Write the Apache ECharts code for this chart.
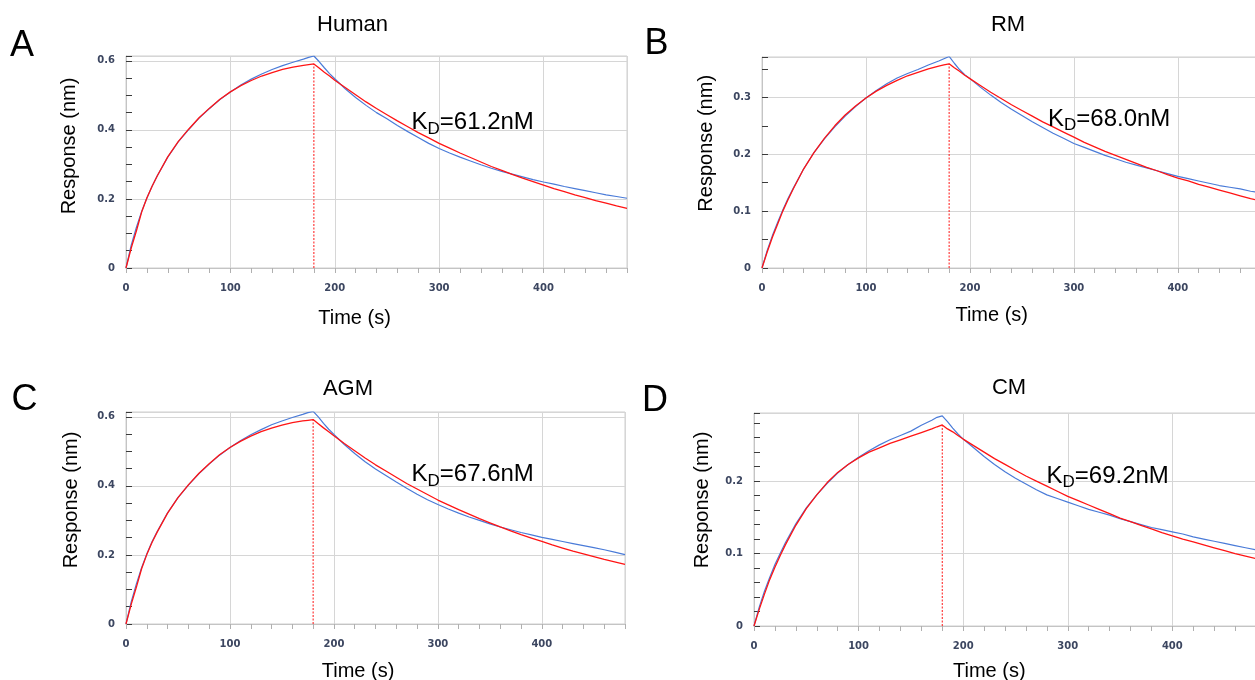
<!DOCTYPE html>
<html><head><meta charset="utf-8">
<script src="https://cdn.jsdelivr.net/npm/echarts@6/dist/echarts.min.js"></script>
<style>html,body{margin:0;padding:0;background:#fff}#chart{width:1255px;height:680px}</style>
</head><body><div id="chart"></div>
<script>
// ---------- data ----------
const time = [0,5,10,15,20,25,30,40,50,60,70,80,90,100,110,120,130,140,150,160,170,175,180,
  185,190,195,200,210,220,230,240,250,260,270,280,290,300,310,320,330,340,350,360,370,380,390,400,410,420,430,440,450,460,470,480];
const dissociationStart = 180;

const panelTitles = ['Human', 'RM', 'AGM', 'CM'];
const panelLetters = ['A', 'B', 'C', 'D'];
const kdValues = ['61.2', '68.0', '67.6', '69.2'];
const yMax = [0.614, 0.371, 0.614, 0.294];
const yLabelStep = [0.2, 0.1, 0.2, 0.1];
const yTickStep = [0.05, 0.05, 0.05, 0.02];
const xMin = 0, xMax = 480, xLabelStep = 100, xTickStep = 20;

const humanData = [0,0.066,0.118,0.164,0.203,0.237,0.267,0.321,0.365,0.401,0.434,0.462,0.488,0.510,0.530,0.547,0.562,0.575,0.586,0.596,0.605,0.610,0.614,
  0.598,0.580,0.563,0.548,0.519,0.494,0.471,0.450,0.432,0.413,0.395,0.378,0.361,0.346,0.333,0.321,0.310,0.299,0.289,0.280,0.272,0.264,0.256,0.249,0.243,0.236,0.230,0.224,0.218,0.212,0.207,0.202];
const humanFit = [0,0.058,0.108,0.162,0.203,0.237,0.267,0.322,0.366,0.402,0.435,0.463,0.489,0.510,0.528,0.543,0.556,0.566,0.575,0.582,0.587,0.589,0.591,
  0.579,0.567,0.556,0.544,0.523,0.502,0.481,0.462,0.444,0.426,0.409,0.392,0.377,0.361,0.347,0.333,0.320,0.307,0.294,0.283,0.271,0.260,0.250,0.240,0.230,0.221,0.212,0.204,0.195,0.188,0.180,0.173];

const rmData = [0,0.031,0.057,0.080,0.102,0.122,0.140,0.174,0.203,0.227,0.248,0.267,0.284,0.299,0.312,0.324,0.334,0.342,0.349,0.357,0.364,0.368,0.372,
  0.360,0.349,0.340,0.333,0.318,0.304,0.291,0.279,0.268,0.257,0.247,0.237,0.228,0.219,0.212,0.205,0.198,0.192,0.186,0.181,0.176,0.171,0.166,0.161,0.157,0.153,0.149,0.145,0.142,0.139,0.135,0.132];
const rmFit = [0,0.028,0.054,0.077,0.100,0.120,0.139,0.174,0.203,0.228,0.250,0.269,0.285,0.299,0.311,0.321,0.330,0.338,0.344,0.350,0.355,0.357,0.359,
  0.352,0.346,0.339,0.333,0.321,0.309,0.298,0.287,0.277,0.267,0.257,0.248,0.239,0.230,0.221,0.213,0.205,0.198,0.191,0.184,0.177,0.171,0.164,0.158,0.153,0.147,0.142,0.137,0.132,0.127,0.122,0.118];

const agmData = [0,0.064,0.116,0.163,0.203,0.238,0.268,0.322,0.366,0.402,0.435,0.463,0.489,0.511,0.531,0.548,0.563,0.577,0.588,0.598,0.607,0.612,0.616,
  0.600,0.581,0.564,0.549,0.520,0.494,0.470,0.449,0.430,0.411,0.393,0.376,0.360,0.346,0.333,0.321,0.310,0.300,0.290,0.281,0.273,0.265,0.258,0.251,0.245,0.239,0.233,0.227,0.221,0.215,0.208,0.201];
const agmFit = [0,0.057,0.107,0.160,0.201,0.236,0.266,0.321,0.366,0.403,0.436,0.464,0.490,0.511,0.529,0.544,0.557,0.567,0.576,0.583,0.588,0.590,0.592,
  0.580,0.568,0.557,0.545,0.523,0.502,0.481,0.461,0.443,0.425,0.407,0.391,0.375,0.359,0.345,0.331,0.318,0.305,0.293,0.281,0.270,0.259,0.249,0.239,0.229,0.220,0.211,0.203,0.195,0.187,0.180,0.173];

const cmData = [0,0.026,0.048,0.067,0.085,0.100,0.115,0.141,0.163,0.181,0.197,0.211,0.223,0.233,0.242,0.250,0.257,0.263,0.269,0.277,0.284,0.288,0.290,
  0.282,0.273,0.265,0.258,0.246,0.234,0.223,0.213,0.204,0.196,0.188,0.181,0.176,0.171,0.166,0.161,0.157,0.153,0.148,0.144,0.140,0.136,0.133,0.130,0.127,0.123,0.120,0.117,0.114,0.111,0.108,0.105];
const cmFit = [0,0.023,0.044,0.064,0.081,0.097,0.112,0.139,0.162,0.181,0.198,0.212,0.223,0.232,0.240,0.246,0.252,0.257,0.262,0.267,0.272,0.275,0.2775,
  0.272,0.268,0.263,0.258,0.249,0.240,0.231,0.223,0.215,0.207,0.200,0.193,0.186,0.179,0.173,0.167,0.161,0.155,0.149,0.144,0.139,0.134,0.129,0.1245,0.120,0.116,0.112,0.108,0.104,0.100,0.0965,0.093];

const panelData = [humanData, rmData, agmData, cmData];
const panelFit = [humanFit, rmFit, agmFit, cmFit];

// ---------- layout & style ----------
const layout = [
  {left:126, top:56,  width:501, height:212, title:[352.5,24.7], letter:[10,46.5],    yName:[69,146],    xName:[354.5,318],   kd:[411.5,122.5]},
  {left:762, top:57,  width:499, height:211, title:[1008,24.7],  letter:[644.4,44.2], yName:[706,143.3], xName:[991.7,315.7], kd:[1048,119.2]},
  {left:126, top:412, width:499, height:212, title:[348,389.1],  letter:[11.5,400],   yName:[71,500],    xName:[358,671.4],   kd:[411.5,474.5]},
  {left:754, top:413, width:502, height:213, title:[1009,388.4], letter:[642.1,400.8],yName:[702.3,500], xName:[989.3,671.4], kd:[1046.5,476]}
];
const FONT = '"Liberation Sans", Arial, sans-serif';
const LABEL_FONT = '"DejaVu Sans", Verdana, sans-serif';
const labelColor = '#3c4660';
const gridColor = '#d6d6d6';
const blue = '#4a7bd8';
const red = '#ff1414';

const grids = [], xAxes = [], yAxes = [], series = [], graphics = [];

layout.forEach((L, i) => {
  grids.push({left:L.left, top:L.top, width:L.width, height:L.height, show:true,
    borderColor:'#cfcfcf', borderWidth:1, backgroundColor:'rgba(0,0,0,0)', outerBoundsMode:'none', containLabel:false});
  xAxes.push({type:'value', gridIndex:i, min:xMin, max:xMax, interval:xLabelStep, position:'bottom',
    axisLine:{show:true, onZero:false, lineStyle:{color:'#c4c4c4', width:1}},
    axisTick:{show:false},
    axisLabel:{show:true, showMaxLabel:false, margin:15, fontSize:10, fontWeight:'bold', fontFamily:LABEL_FONT, color:labelColor},
    splitLine:{show:true, lineStyle:{color:gridColor, width:1}}});
  xAxes.push({type:'value', gridIndex:i, min:xMin, max:xMax, interval:xTickStep, position:'bottom',
    axisLine:{show:false, onZero:false}, axisLabel:{show:false}, splitLine:{show:false},
    axisTick:{show:true, inside:false, length:5, lineStyle:{color:'#b0b0b0', width:1}}});
  yAxes.push({type:'value', gridIndex:i, min:0, max:yMax[i], interval:yLabelStep[i], position:'left',
    axisLine:{show:true, onZero:false, lineStyle:{color:'#c4c4c4', width:1}},
    axisTick:{show:false},
    axisLabel:{show:true, showMaxLabel:false, margin:11, fontSize:10, fontWeight:'bold', fontFamily:LABEL_FONT, color:labelColor},
    splitLine:{show:true, lineStyle:{color:gridColor, width:1}}});
  yAxes.push({type:'value', gridIndex:i, min:0, max:yMax[i], interval:yTickStep[i], position:'left',
    axisLine:{show:false, onZero:false}, axisLabel:{show:false}, splitLine:{show:false},
    axisTick:{show:true, inside:true, length:6, lineStyle:{color:'#3a3a3a', width:1}}});

  const dataPts = time.map((t, k) => [t, panelData[i][k]]);
  const fitPts = time.map((t, k) => [t, panelFit[i][k]]);
  const iSwitch = time.indexOf(dissociationStart);
  series.push({name:'Data', type:'line', xAxisIndex:2*i, yAxisIndex:2*i, data:dataPts, showSymbol:false, symbol:'none',
    lineStyle:{color:blue, width:1.2}, itemStyle:{color:blue}, silent:true, animation:false, z:2});
  series.push({name:'Fit', type:'line', xAxisIndex:2*i, yAxisIndex:2*i, data:fitPts, showSymbol:false, symbol:'none',
    lineStyle:{color:red, width:1.3}, itemStyle:{color:red}, silent:true, animation:false, z:3});
  series.push({name:'Dissociation start', type:'line', xAxisIndex:2*i, yAxisIndex:2*i,
    data:[[dissociationStart, 0], [dissociationStart, panelFit[i][iSwitch]]], showSymbol:false, symbol:'none',
    lineStyle:{color:red, width:1, type:[2,1.5]}, silent:true, animation:false, z:3});

  graphics.push({type:'text', x:L.letter[0], y:L.letter[1], silent:true, z:100,
    style:{text:panelLetters[i], fontSize:36, fontFamily:FONT, fill:'#000', align:'left', verticalAlign:'middle', textAlign:'left', textVerticalAlign:'middle'}});
  graphics.push({type:'text', x:L.title[0], y:L.title[1], silent:true, z:100,
    style:{text:panelTitles[i], fontSize:22, fontFamily:FONT, fill:'#000', align:'center', verticalAlign:'middle', textAlign:'center', textVerticalAlign:'middle'}});
  graphics.push({type:'text', x:L.xName[0], y:L.xName[1], silent:true, z:100,
    style:{text:'Time (s)', fontSize:20, fontFamily:FONT, fill:'#000', align:'center', verticalAlign:'middle', textAlign:'center', textVerticalAlign:'middle'}});
  graphics.push({type:'text', x:L.yName[0], y:L.yName[1], rotation:Math.PI/2, silent:true, z:100,
    style:{text:'Response (nm)', fontSize:20, fontFamily:FONT, fill:'#000', align:'center', verticalAlign:'middle', textAlign:'center', textVerticalAlign:'middle'}});
  graphics.push({type:'text', x:L.kd[0], y:L.kd[1], silent:true, z:100,
    style:{text:'{k|K}{d|D}{k|=' + kdValues[i] + 'nM}', align:'left', verticalAlign:'middle', textAlign:'left', textVerticalAlign:'middle',
      fill:'#000',
      rich:{
        k:{fontSize:24, fontFamily:FONT, fill:'#000', color:'#000', lineHeight:30},
        d:{fontSize:17, fontFamily:FONT, fill:'#000', color:'#000', lineHeight:15, verticalAlign:'bottom'}
      }}});
});

const chart = echarts.init(document.getElementById('chart'), null, {renderer:'canvas'});
chart.setOption({
  backgroundColor:'#ffffff',
  animation:false,
  grid:grids, xAxis:xAxes, yAxis:yAxes, series:series, graphic:graphics
});
</script></body></html>
